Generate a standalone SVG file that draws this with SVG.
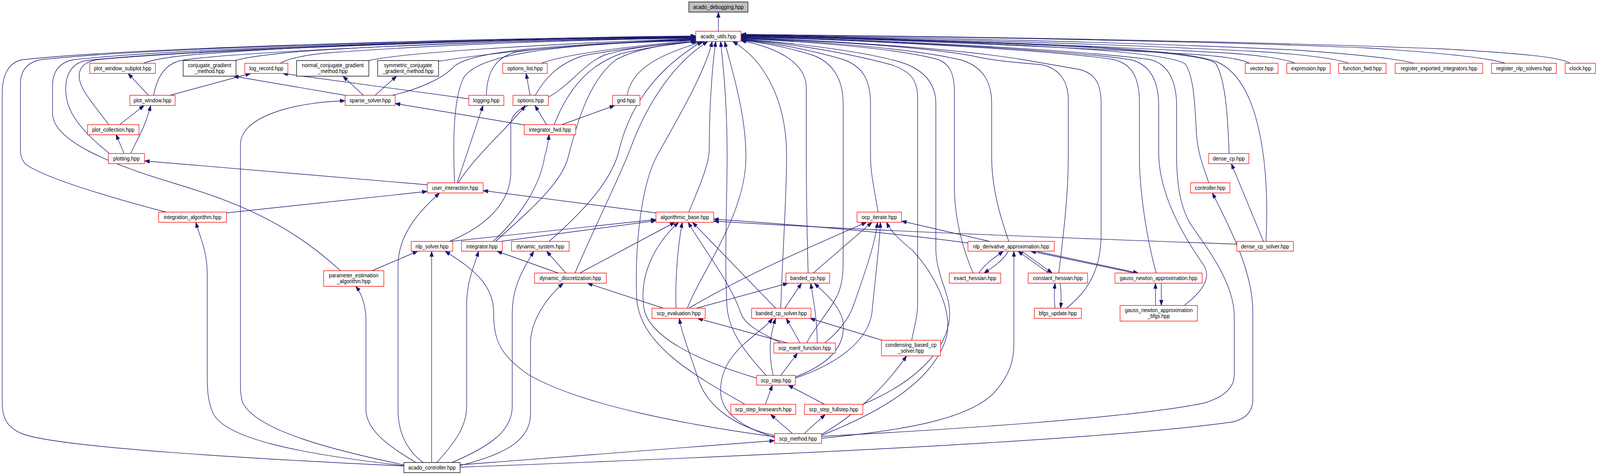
<svg xmlns="http://www.w3.org/2000/svg" width="4379" height="1216" viewBox="0 0 4379 1216">
<defs>
<marker id="ah" viewBox="0 0 14 10" markerWidth="14" markerHeight="10" refX="14" refY="5" orient="auto" markerUnits="userSpaceOnUse"><path d="M0,0L14,5L0,10z" fill="#191970" stroke="#191970" stroke-width="1"/></marker>
<style>
.node rect{fill:#ffffff;stroke:#ff0000;stroke-width:1.4}
.node.blk rect{stroke:#000000}
.node.root rect{fill:#bfbfbf;stroke:#000000}
.node text{font-family:"Liberation Sans",Arial,Helvetica,sans-serif;font-size:14px;fill:#000;text-anchor:middle}
#edges path{fill:none;stroke:#191970;stroke-width:1.4;marker-end:url(#ah)}
</style>
</defs>
<rect x="0" y="0" width="4379" height="1216" fill="#ffffff"/>
<g id="diagram" transform="scale(0.934,1)">
<g id="edges">
<path d="M1969,80 L1969,31"/>
<path d="M1107,1193 C700,1175 150,1145 60,1110 C20,1095 6,1070 6,1030 L6,240 C6,190 25,160 60,153 C400,118 1500,96 1907,92"/>
<path d="M455,543 C300,505 120,455 70,420 C60,410 56,400 56,380 L56,215 C56,180 75,160 110,153 C450,118 1500,96 1907,93"/>
<path d="M933,693 C780,560 620,510 480,470 C300,420 144,360 144,290 L144,220 C144,180 165,160 200,153 C520,120 1500,97 1907,94"/>
<path d="M300,393 C230,340 180,290 180,230 C180,185 200,162 235,155 C560,122 1500,97 1907,94"/>
<path d="M298,319 C250,260 217,225 217,195 C217,170 235,158 265,153 C600,124 1500,98 1907,95"/>
<path d="M393,162 C420,152 470,145 530,140 C900,112 1500,98 1907,95"/>
<path d="M421,244 C430,200 450,165 495,155 C650,130 1500,99 1907,96"/>
<path d="M645,155 C680,145 750,138 810,133 C1100,112 1600,100 1907,97"/>
<path d="M768,162 C790,150 830,142 890,136 C1200,114 1600,101 1907,98"/>
<path d="M1011,155 C1100,135 1500,112 1907,99"/>
<path d="M1202,157 C1400,127 1700,107 1907,100"/>
<path d="M1075,244 C1150,228 1215,200 1245,170 C1290,132 1500,114 1907,102"/>
<path d="M1333,244 C1335,180 1360,145 1420,132 C1600,112 1800,106 1907,104"/>
<path d="M1484,162 C1530,145 1650,125 1907,103"/>
<path d="M1467,244 C1500,190 1540,160 1600,142 C1750,118 1850,110 1910,106"/>
<path d="M1519,319 C1560,220 1620,165 1700,138 C1800,115 1880,110 1913,106"/>
<path d="M1719,244 C1730,180 1800,140 1930,106"/>
<path d="M1246,468 C1242,380 1240,260 1270,200 C1310,140 1500,115 1907,101"/>
<path d="M1232,618 C1330,580 1400,520 1400,440 L1400,320 C1400,280 1450,270 1490,255 C1560,225 1600,160 1660,140 C1740,118 1860,110 1909,106"/>
<path d="M1358,618 C1450,540 1540,470 1558,400 C1585,300 1620,200 1690,152 C1750,122 1850,110 1915,106"/>
<path d="M1505,618 C1600,540 1680,460 1698,380 C1730,260 1810,170 1925,106"/>
<path d="M1576,699 C1640,560 1700,450 1728,380 C1775,260 1850,160 1940,106"/>
<path d="M2042,1035 C1900,960 1750,880 1745,760 C1740,640 1755,480 1800,400 C1860,300 1935,180 1952,106"/>
<path d="M1888,543 C1920,470 1944,420 1944,380 C1944,250 1955,150 1962,106"/>
<path d="M2100,961 C2040,900 2000,850 1993,790 C1985,680 1993,500 1993,400 C1993,250 1980,150 1975,106"/>
<path d="M1884,789 C1920,700 2035,560 2044,420 C2050,300 2000,160 1986,106"/>
<path d="M2140,789 C2145,650 2156,500 2156,400 C2156,250 2090,150 2008,106"/>
<path d="M2215,699 C2212,600 2210,500 2210,400 L2210,225 C2210,170 2150,125 2031,104"/>
<path d="M2211,878 C2230,840 2285,785 2300,745 C2311,715 2311,690 2311,650 L2311,265 C2311,200 2280,160 2230,142 C2150,118 2080,108 2031,103"/>
<path d="M2407,543 C2395,480 2386,440 2386,400 L2386,265 C2386,200 2360,168 2310,152 C2200,122 2100,108 2031,102"/>
<path d="M2499,871 C2505,840 2515,810 2515,780 L2515,250 C2515,200 2490,180 2440,165 C2300,130 2150,110 2031,101"/>
<path d="M2365,1035 C2480,990 2580,920 2600,830 C2615,760 2568,720 2565,640 L2565,265 C2565,205 2520,172 2460,157 C2350,128 2150,108 2031,100"/>
<path d="M2667,699 C2640,640 2616,560 2616,480 L2616,235 C2616,185 2600,162 2570,152 C2450,122 2200,106 2031,99"/>
<path d="M2765,618 C2740,550 2718,480 2718,400 L2718,265 C2718,205 2690,172 2640,155 C2500,122 2200,104 2031,98"/>
<path d="M2902,699 C2915,600 2928,500 2928,400 L2928,255 C2928,205 2900,172 2850,165 C2780,160 2720,155 2660,142 C2500,116 2200,103 2031,97"/>
<path d="M2923,789 C2990,740 3018,680 3018,600 L3018,265 C3018,212 3000,188 2960,178 C2900,168 2850,160 2800,152 C2600,122 2250,103 2031,96"/>
<path d="M3169,699 C3140,600 3123,480 3123,400 L3123,262 C3123,195 3100,162 3050,152 C2850,124 2300,101 2031,95"/>
<path d="M3246,782 C3290,750 3322,715 3300,680 C3240,600 3180,500 3176,400 L3176,272 C3176,205 3150,165 3100,153 C2900,124 2300,100 2031,94"/>
<path d="M2252,1117 C2600,1100 3100,1070 3300,1032 C3360,1015 3383,990 3383,960 L3383,810 C3383,720 3300,625 3262,572 C3232,525 3225,460 3225,400 L3225,272 C3225,205 3200,162 3150,152 C2900,122 2300,99 2031,93"/>
<path d="M3313,468 C3300,430 3285,400 3280,350 C3275,280 3275,205 3250,165 C3215,132 2800,108 2031,92"/>
<path d="M3369,393 C3365,300 3360,205 3332,162 C3300,135 3000,112 2031,91"/>
<path d="M3470,618 C3475,520 3470,440 3460,380 C3440,260 3400,185 3335,158 C3250,130 3000,110 2031,91"/>
<path d="M3425,162 C3400,150 3330,142 3250,138 C2800,115 2300,98 2031,90"/>
<path d="M3550,162 C3520,150 3440,140 3350,135 C2900,112 2400,97 2031,90"/>
<path d="M3697,162 C3660,150 3580,140 3450,132 C3000,110 2400,96 2031,89"/>
<path d="M3875,162 C3830,150 3700,138 3550,128 C3100,108 2500,95 2031,89"/>
<path d="M4126,162 C4080,148 3950,135 3750,123 C3300,105 2600,94 2031,88"/>
<path d="M4304,162 C4280,148 4200,138 3950,125 C3400,105 2600,93 2031,88"/>
<path d="M407,244 L351,188"/>
<path d="M466,244 L687,188"/>
<path d="M946,244 L640,195"/>
<path d="M996,244 L940,195"/>
<path d="M1028,244 L1087,195"/>
<path d="M1285,253 L775,188"/>
<path d="M1437,320 L1083,265"/>
<path d="M1107,1190 C900,1150 700,1100 665,1030 C659,1010 659,1000 659,980 L659,370 C659,300 800,262 946,258"/>
<path d="M328,319 L395,270"/>
<path d="M358,393 C380,350 400,320 413,270"/>
<path d="M340,393 L318,344"/>
<path d="M1171,473 L396,412"/>
<path d="M621,545 L1171,490"/>
<path d="M1453,244 L1442,188"/>
<path d="M1498,319 L1466,270"/>
<path d="M1540,319 L1685,270"/>
<path d="M1253,468 L1324,270"/>
<path d="M1256,468 C1300,400 1400,320 1440,270"/>
<path d="M1351,618 C1420,560 1480,480 1493,400 C1500,380 1503,360 1505,344"/>
<path d="M1551,699 L1498,643"/>
<path d="M1530,699 L1362,643"/>
<path d="M1589,699 L1850,569"/>
<path d="M1798,545 L1324,488"/>
<path d="M1235,618 L1798,562"/>
<path d="M1372,618 L1798,565"/>
<path d="M1020,693 L1145,643"/>
<path d="M1183,1184 L1183,643"/>
<path d="M2123,1118 C1900,1090 1600,1040 1450,960 C1370,910 1353,870 1353,800 C1353,720 1280,680 1220,643"/>
<path d="M1197,1184 C1250,1130 1279,1090 1279,1040 L1279,780 C1279,720 1300,680 1312,643"/>
<path d="M1239,1184 C1350,1140 1404,1100 1404,1040 L1404,800 C1404,730 1440,680 1463,643"/>
<path d="M1260,1192 C1400,1160 1454,1120 1454,1060 L1454,880 C1454,820 1500,760 1544,725"/>
<path d="M1818,789 L1610,725"/>
<path d="M1853,789 C1850,700 1860,620 1870,569"/>
<path d="M1888,789 C2050,700 2250,620 2375,569"/>
<path d="M1909,789 L2160,725"/>
<path d="M2126,789 L1898,569"/>
<path d="M2151,789 L2197,725"/>
<path d="M2158,878 L1912,815"/>
<path d="M2193,878 L2155,815"/>
<path d="M2140,878 C2080,850 2040,830 2030,800 C2000,720 1930,640 1886,569"/>
<path d="M2240,878 C2240,820 2230,770 2222,725"/>
<path d="M2260,878 C2300,850 2330,810 2340,780 C2370,700 2400,620 2405,569"/>
<path d="M2140,961 L2186,904"/>
<path d="M2119,961 C2105,900 2110,860 2126,815"/>
<path d="M2074,968 C1900,920 1780,860 1765,790 C1750,700 1800,620 1860,569"/>
<path d="M2180,968 C2300,930 2380,870 2390,800 C2400,700 2412,620 2413,569"/>
<path d="M2180,965 C2280,930 2320,880 2310,820 C2300,780 2260,750 2232,725"/>
<path d="M2098,1035 L2117,986"/>
<path d="M2260,1035 L2160,986"/>
<path d="M2172,1110 L2112,1061"/>
<path d="M2204,1110 L2262,1061"/>
<path d="M2252,1112 C2330,1070 2420,1000 2485,911"/>
<path d="M2250,1115 C2400,1060 2560,980 2595,860 C2610,790 2560,700 2500,640 C2460,610 2440,590 2430,569"/>
<path d="M2252,1122 C2500,1100 2650,1070 2720,1010 C2770,960 2779,920 2779,880 L2779,643"/>
<path d="M2123,1115 C2000,1090 1930,1030 1910,960 C1890,900 1870,860 1862,815"/>
<path d="M2123,1120 C2020,1090 1975,1050 1975,1000 C1975,900 2080,860 2118,815"/>
<path d="M1261,1190 L2123,1128"/>
<path d="M1261,1196 C2000,1170 3000,1130 3380,1080 C3420,1070 3434,1050 3434,1020 L3434,800 C3434,700 3380,600 3323,494"/>
<path d="M3463,618 L3375,419"/>
<path d="M3390,625 C3000,612 2400,592 1956,566"/>
<path d="M2653,622 C2400,590 2100,570 1956,561"/>
<path d="M2713,618 L2471,566"/>
<path d="M2683,699 C2700,675 2725,660 2750,643"/>
<path d="M2764,643 C2748,668 2722,684 2697,699"/>
<path d="M2874,699 L2790,643"/>
<path d="M2800,643 L2884,699"/>
<path d="M3109,699 L2825,643"/>
<path d="M2840,643 L3120,699"/>
<path d="M2892,789 C2889,770 2889,750 2892,725"/>
<path d="M2906,725 C2909,750 2909,770 2907,789"/>
<path d="M3167,782 L3167,725"/>
<path d="M3183,725 L3183,782"/>
<path d="M2418,871 L2220,815"/>
<path d="M1107,1192 C800,1160 620,1120 585,1060 C570,1030 568,1000 568,960 L568,700 C568,640 545,600 537,569"/>
<path d="M1140,1184 C1060,1140 1005,1100 1003,1050 L1003,820 C1003,780 990,750 975,733"/>
<path d="M1160,1184 C1110,1150 1091,1100 1091,1050 L1091,680 C1091,600 1150,540 1205,494"/>
<path d="M2229,699 L2390,569"/>
</g>
<g id="acado_debugging" class="node root"><rect x="1888" y="5" width="162" height="26"/><text x="1969" y="23">acado_debugging.hpp</text></g>
<g id="acado_utils" class="node"><rect x="1907" y="80" width="124" height="26"/><text x="1969" y="98">acado_utils.hpp</text></g>
<g id="plot_window_subplot" class="node"><rect x="246" y="162" width="180" height="26"/><text x="336" y="180">plot_window_subplot.hpp</text></g>
<g id="conjugate_gradient_method" class="node blk"><rect x="502" y="155" width="145" height="40"/><text x="574.5" y="172">conjugate_gradient</text><text x="574.5" y="187">_method.hpp</text></g>
<g id="log_record" class="node"><rect x="671" y="162" width="118" height="26"/><text x="730" y="180">log_record.hpp</text></g>
<g id="normal_conjugate_gradient_method" class="node blk"><rect x="813" y="155" width="198" height="40"/><text x="912" y="172">normal_conjugate_gradient</text><text x="912" y="187">_method.hpp</text></g>
<g id="symmetric_conjugate_gradient_method" class="node blk"><rect x="1035" y="155" width="167" height="40"/><text x="1118.5" y="172">symmetric_conjugate</text><text x="1118.5" y="187">_gradient_method.hpp</text></g>
<g id="options_list" class="node"><rect x="1378" y="162" width="122" height="26"/><text x="1439" y="180">options_list.hpp</text></g>
<g id="vector" class="node"><rect x="3413" y="162" width="90" height="26"/><text x="3458" y="180">vector.hpp</text></g>
<g id="expression" class="node"><rect x="3527" y="162" width="119" height="26"/><text x="3586.5" y="180">expression.hpp</text></g>
<g id="function_fwd" class="node"><rect x="3669" y="162" width="130" height="26"/><text x="3734" y="180">function_fwd.hpp</text></g>
<g id="register_exported_integrators" class="node"><rect x="3824" y="162" width="240" height="26"/><text x="3944" y="180">register_exported_integrators.hpp</text></g>
<g id="register_nlp_solvers" class="node"><rect x="4088" y="162" width="178" height="26"/><text x="4177" y="180">register_nlp_solvers.hpp</text></g>
<g id="clock" class="node"><rect x="4290" y="162" width="83" height="26"/><text x="4331.5" y="180">clock.hpp</text></g>
<g id="plot_window" class="node"><rect x="356" y="244" width="124" height="26"/><text x="418" y="262">plot_window.hpp</text></g>
<g id="sparse_solver" class="node"><rect x="946" y="244" width="137" height="26"/><text x="1014.5" y="262">sparse_solver.hpp</text></g>
<g id="logging" class="node"><rect x="1285" y="244" width="96" height="26"/><text x="1333" y="262">logging.hpp</text></g>
<g id="options" class="node"><rect x="1406" y="244" width="97" height="26"/><text x="1454.5" y="262">options.hpp</text></g>
<g id="grid" class="node"><rect x="1679" y="244" width="75" height="26"/><text x="1716.5" y="262">grid.hpp</text></g>
<g id="plot_collection" class="node"><rect x="240" y="319" width="141" height="26"/><text x="310.5" y="337">plot_collection.hpp</text></g>
<g id="integrator_fwd" class="node"><rect x="1437" y="319" width="141" height="26"/><text x="1507.5" y="337">integrator_fwd.hpp</text></g>
<g id="plotting" class="node"><rect x="297" y="393" width="99" height="26"/><text x="346.5" y="411">plotting.hpp</text></g>
<g id="dense_cp" class="node"><rect x="3313" y="393" width="110" height="26"/><text x="3368" y="411">dense_cp.hpp</text></g>
<g id="user_interaction" class="node"><rect x="1171" y="468" width="153" height="26"/><text x="1247.5" y="486">user_interaction.hpp</text></g>
<g id="controller" class="node"><rect x="3263" y="468" width="108" height="26"/><text x="3317" y="486">controller.hpp</text></g>
<g id="integration_algorithm" class="node"><rect x="435" y="543" width="186" height="26"/><text x="528" y="561">integration_algorithm.hpp</text></g>
<g id="algorithmic_base" class="node"><rect x="1798" y="543" width="158" height="26"/><text x="1877" y="561">algorithmic_base.hpp</text></g>
<g id="ocp_iterate" class="node"><rect x="2349" y="543" width="122" height="26"/><text x="2410" y="561">ocp_iterate.hpp</text></g>
<g id="nlp_solver" class="node"><rect x="1127" y="618" width="114" height="25"/><text x="1184" y="636">nlp_solver.hpp</text></g>
<g id="integrator" class="node"><rect x="1265" y="618" width="112" height="25"/><text x="1321" y="636">integrator.hpp</text></g>
<g id="dynamic_system" class="node"><rect x="1402" y="618" width="158" height="25"/><text x="1481" y="636">dynamic_system.hpp</text></g>
<g id="nlp_derivative_approximation" class="node"><rect x="2653" y="618" width="237" height="25"/><text x="2771.5" y="636">nlp_derivative_approximation.hpp</text></g>
<g id="dense_cp_solver" class="node"><rect x="3390" y="618" width="155" height="25"/><text x="3467.5" y="636">dense_cp_solver.hpp</text></g>
<g id="parameter_estimation_algorithm" class="node"><rect x="887" y="693" width="165" height="40"/><text x="969.5" y="710">parameter_estimation</text><text x="969.5" y="725">_algorithm.hpp</text></g>
<g id="dynamic_discretization" class="node"><rect x="1465" y="699" width="197" height="26"/><text x="1563.5" y="717">dynamic_discretization.hpp</text></g>
<g id="banded_cp" class="node"><rect x="2154" y="699" width="120" height="26"/><text x="2214" y="717">banded_cp.hpp</text></g>
<g id="exact_hessian" class="node"><rect x="2602" y="699" width="141" height="26"/><text x="2672.5" y="717">exact_hessian.hpp</text></g>
<g id="constant_hessian" class="node"><rect x="2818" y="699" width="163" height="26"/><text x="2899.5" y="717">constant_hessian.hpp</text></g>
<g id="gauss_newton_approximation" class="node"><rect x="3056" y="699" width="239" height="26"/><text x="3175.5" y="717">gauss_newton_approximation.hpp</text></g>
<g id="scp_evaluation" class="node"><rect x="1787" y="789" width="146" height="26"/><text x="1860" y="807">scp_evaluation.hpp</text></g>
<g id="banded_cp_solver" class="node"><rect x="2060" y="789" width="163" height="26"/><text x="2141.5" y="807">banded_cp_solver.hpp</text></g>
<g id="bfgs_update" class="node"><rect x="2835" y="789" width="129" height="26"/><text x="2899.5" y="807">bfgs_update.hpp</text></g>
<g id="gauss_newton_approximation_bfgs" class="node"><rect x="3070" y="782" width="212" height="40"/><text x="3176" y="799">gauss_newton_approximation</text><text x="3176" y="814">_bfgs.hpp</text></g>
<g id="scp_merit_function" class="node"><rect x="2121" y="878" width="169" height="26"/><text x="2205.5" y="896">scp_merit_function.hpp</text></g>
<g id="condensing_based_cp_solver" class="node"><rect x="2416" y="871" width="162" height="40"/><text x="2497" y="888">condensing_based_cp</text><text x="2497" y="903">_solver.hpp</text></g>
<g id="scp_step" class="node"><rect x="2074" y="961" width="106" height="25"/><text x="2127" y="979">scp_step.hpp</text></g>
<g id="scp_step_linesearch" class="node"><rect x="2003" y="1035" width="178" height="26"/><text x="2092" y="1053">scp_step_linesearch.hpp</text></g>
<g id="scp_step_fullstep" class="node"><rect x="2205" y="1035" width="160" height="26"/><text x="2285" y="1053">scp_step_fullstep.hpp</text></g>
<g id="scp_method" class="node"><rect x="2123" y="1110" width="129" height="25"/><text x="2187.5" y="1128">scp_method.hpp</text></g>
<g id="acado_controller" class="node blk"><rect x="1107" y="1184" width="154" height="26"/><text x="1184" y="1202">acado_controller.hpp</text></g>
</g>
</svg>
